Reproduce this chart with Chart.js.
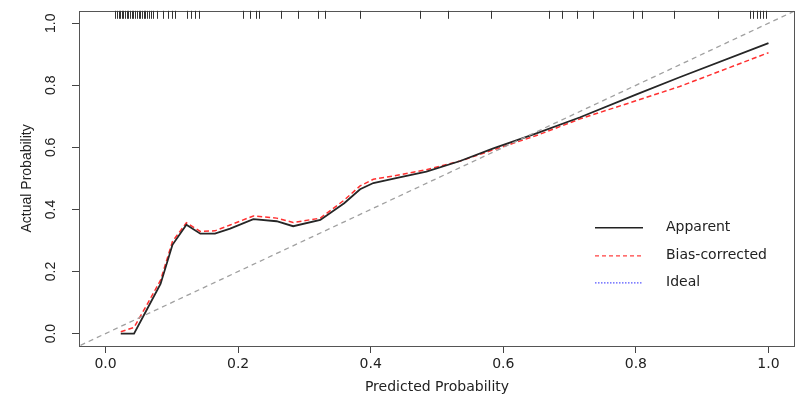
<!DOCTYPE html>
<html>
<head>
<meta charset="utf-8">
<script src="https://cdn.jsdelivr.net/npm/chart.js@4/dist/chart.umd.min.js"></script>
<style>
  html, body { margin: 0; padding: 0; background: #fff; }
  #wrap { width: 797px; height: 398px; }
</style>
</head>
<body>
<div id="wrap"><canvas id="calChart" width="797" height="398"></canvas></div>
<script>
// predicted probability grid where the curves bend
const predicted = [0.023, 0.043, 0.063, 0.083, 0.101, 0.122, 0.143, 0.165, 0.188, 0.223, 0.258, 0.283,
  0.324, 0.36, 0.384, 0.404, 0.44, 0.484, 0.535, 0.585, 0.65, 0.716, 0.8, 0.866, 1.0];
const apparent = [0.0, 0.0, 0.08, 0.16, 0.286, 0.351, 0.322, 0.322, 0.338, 0.369, 0.362, 0.346,
  0.366, 0.42, 0.465, 0.485, 0.502, 0.522, 0.556, 0.597, 0.645, 0.697, 0.77, 0.826, 0.936];
const biasCorrected = [0.006, 0.02, 0.095, 0.172, 0.297, 0.357, 0.329, 0.331, 0.35, 0.379, 0.372, 0.358,
  0.372, 0.43, 0.476, 0.497, 0.51, 0.528, 0.556, 0.592, 0.638, 0.692, 0.75, 0.796, 0.905];
const idealEnds = [-0.05, 1.05];
// distribution of predicted probabilities (rug along the top)
const rugValues = [0.014, 0.017, 0.020, 0.022, 0.025, 0.027, 0.029, 0.032, 0.034, 0.037, 0.040, 0.042,
  0.044, 0.047, 0.050, 0.052, 0.055, 0.058, 0.060, 0.063, 0.066, 0.069, 0.072, 0.078, 0.087, 0.094,
  0.100, 0.105, 0.123, 0.129, 0.135, 0.141, 0.207, 0.218, 0.227, 0.232, 0.265, 0.290, 0.321, 0.331,
  0.384, 0.474, 0.517, 0.581, 0.669, 0.688, 0.711, 0.735, 0.796, 0.809, 0.858, 0.924, 0.972, 0.976,
  0.982, 0.987, 0.991, 0.996];
const tickValues = [0, 0.2, 0.4, 0.6, 0.8, 1.0];
const legendLabels = ["Apparent", "Bias-corrected", "Ideal"];

const WIDE = "'DejaVu Sans', sans-serif";      // horizontal text
const NARROW = "'Liberation Sans', Arial, sans-serif"; // rotated text
const TEXT = "#222";

function pairs(xs, ys) {
  return xs.map((x, i) => ({ x: x, y: ys[i] }));
}

const legendStyles = [
  { color: "#222", dash: [], width: 1.5 },
  { color: "#ff4040", dash: [4, 3], width: 1.3 },
  { color: "#5555ff", dash: [1.5, 1.5], width: 1.3 },
];

const extras = {
  id: "extras",
  afterDraw(chart) {
    const ctx = chart.ctx;
    const a = chart.chartArea;
    const xs = chart.scales.x, ys = chart.scales.y;
    ctx.save();
    // frame
    ctx.strokeStyle = "#555";
    ctx.lineWidth = 1;
    ctx.strokeRect(Math.round(a.left) + 0.5, Math.round(a.top) + 0.5,
      Math.round(a.right - a.left) - 1, Math.round(a.bottom - a.top));
    // rug
    ctx.strokeStyle = "#333";
    rugValues.forEach(v => {
      const px = Math.round(xs.getPixelForValue(v)) + 0.5;
      ctx.beginPath();
      ctx.moveTo(px, a.top);
      ctx.lineTo(px, a.top + 8);
      ctx.stroke();
    });
    // rotated y tick labels
    ctx.fillStyle = TEXT;
    ctx.font = "14px " + NARROW;
    ctx.textAlign = "center";
    ctx.textBaseline = "middle";
    ys.ticks.forEach(t => {
      const py = ys.getPixelForValue(t.value);
      ctx.save();
      ctx.translate(a.left - 28, py);
      ctx.rotate(-Math.PI / 2);
      ctx.fillText(t.value.toFixed(1), 0, 0);
      ctx.restore();
    });
    // legend
    const x1 = a.right - 200, x2 = a.right - 152, tx = a.right - 129;
    const rows = [a.top + 217, a.top + 245, a.top + 272];
    ctx.font = "14px " + WIDE;
    ctx.textAlign = "left";
    legendLabels.forEach((lab, i) => {
      const st = legendStyles[i];
      ctx.strokeStyle = st.color;
      ctx.lineWidth = st.width;
      ctx.setLineDash(st.dash);
      ctx.beginPath();
      ctx.moveTo(x1, rows[i]);
      ctx.lineTo(x2, rows[i]);
      ctx.stroke();
      ctx.setLineDash([]);
      ctx.fillStyle = TEXT;
      ctx.fillText(lab, tx, rows[i]);
    });
    ctx.restore();
  }
};

new Chart(document.getElementById("calChart"), {
  type: "scatter",
  data: {
    datasets: [
      {
        label: "Ideal",
        data: pairs(idealEnds, idealEnds),
        showLine: true,
        borderColor: "#a0a0a0",
        borderWidth: 1.3,
        borderDash: [5, 4],
        pointRadius: 0,
      },
      {
        label: "Apparent",
        data: pairs(predicted, apparent),
        showLine: true,
        borderColor: "#262626",
        borderWidth: 1.8,
        pointRadius: 0,
      },
      {
        label: "Bias-corrected",
        data: pairs(predicted, biasCorrected),
        showLine: true,
        borderColor: "#ff3030",
        borderWidth: 1.5,
        borderDash: [5, 3],
        pointRadius: 0,
      },
    ],
  },
  options: {
    responsive: false,
    animation: false,
    layout: { padding: { left: 0, top: 1, right: 2, bottom: 0 } },
    plugins: { legend: { display: false }, tooltip: { enabled: false } },
    scales: {
      x: {
        type: "linear",
        min: -0.04,
        max: 1.04,
        afterBuildTicks: s => { s.ticks = tickValues.map(v => ({ value: v })); },
        afterFit: s => { s.height = 52; },
        border: { display: false },
        grid: { drawOnChartArea: false, drawTicks: true, tickLength: 7, color: "#444" },
        ticks: {
          color: TEXT,
          font: { family: WIDE, size: 14 },
          padding: 3,
          maxRotation: 0,
          callback: v => Number(v).toFixed(1),
        },
        title: {
          display: true,
          text: "Predicted Probability",
          color: TEXT,
          font: { family: WIDE, size: 14 },
          padding: { top: 0, bottom: 2 },
        },
      },
      y: {
        type: "linear",
        min: -0.04,
        max: 1.04,
        afterBuildTicks: s => { s.ticks = tickValues.map(v => ({ value: v })); },
        afterFit: s => { s.width = 79; },
        border: { display: false },
        grid: { drawOnChartArea: false, drawTicks: true, tickLength: 7, color: "#444" },
        ticks: { callback: () => "", font: { family: NARROW, size: 13 } },
        title: {
          display: true,
          text: "Actual Probability",
          color: TEXT,
          font: { family: NARROW, size: 14 },
          padding: { top: 19, bottom: 0 },
        },
      },
    },
  },
  plugins: [extras],
});
</script>
</body>
</html>
